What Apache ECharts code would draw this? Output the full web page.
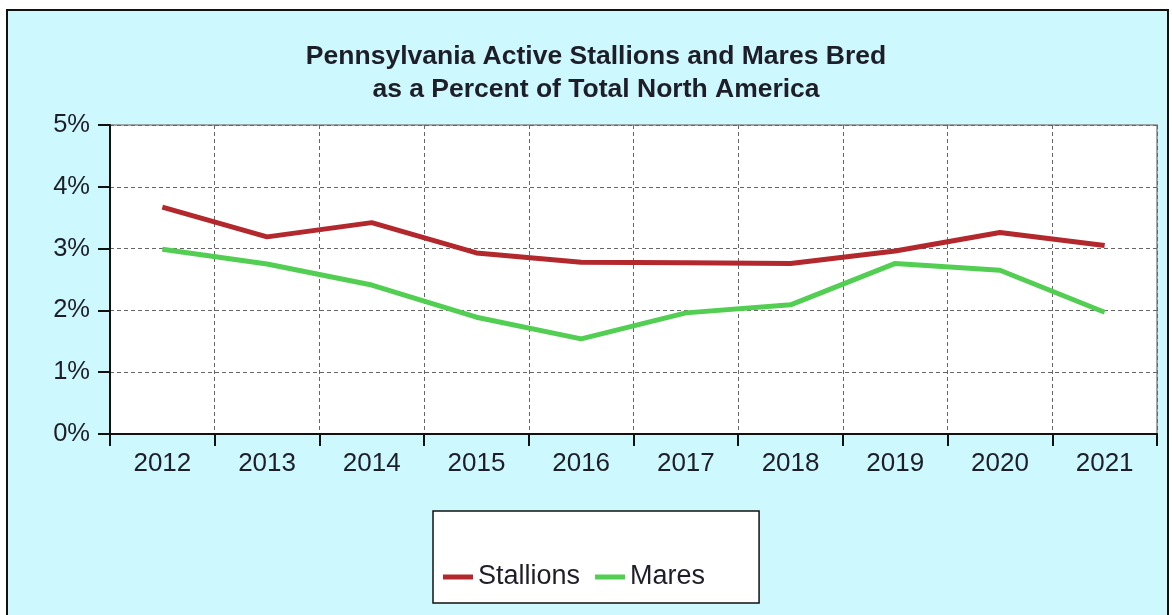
<!DOCTYPE html>
<html>
<head>
<meta charset="utf-8">
<script src="https://cdn.jsdelivr.net/npm/echarts@6/dist/echarts.min.js"></script>
<style>
  html, body { margin: 0; padding: 0; background: #fff; }
  #chart { width: 1172px; height: 615px; }
</style>
</head>
<body>
<div id="chart"></div>
<script>
const years = ["2012", "2013", "2014", "2015", "2016", "2017", "2018", "2019", "2020", "2021"]
const stallions = [3.67, 3.19, 3.42, 2.93, 2.78, 2.77, 2.76, 2.96, 3.26, 3.05]
const mares = [2.99, 2.75, 2.41, 1.89, 1.54, 1.96, 2.09, 2.76, 2.65, 1.97]

const font = "'Liberation Sans', Arial, sans-serif"
const textColor = "#1e1e28"

const chart = echarts.init(document.getElementById("chart"), null, { renderer: "canvas" })
chart.setOption({
    backgroundColor: "#fff",
    animation: false,
    graphic: [{
        type: "rect",
        z: -10,
        shape: { x: 7, y: 10, width: 1161, height: 620 },
        style: { fill: "#cdf8fe", stroke: "#111", lineWidth: 2 },
    }],
    title: {
        text: "Pennsylvania Active Stallions and Mares Bred\nas a Percent of Total North America",
        left: 596,
        top: 40,
        textAlign: "center",
        padding: 0,
        textStyle: {
            fontFamily: font,
            fontWeight: "bold",
            fontSize: 26.5,
            lineHeight: 33,
            color: textColor,
        },
    },
    grid: {
        show: true,
        left: 110,
        top: 125,
        right: 15,
        bottom: 181,
        containLabel: false,
        backgroundColor: "#fff",
        borderColor: "#8a8a8a",
        borderWidth: 1.5,
    },
    legend: {
        left: 433,
        top: 511,
        padding: [52, 54, 12, 10],
        backgroundColor: "#fff",
        borderColor: "#111",
        borderWidth: 1.5,
        icon: "rect",
        itemWidth: 30,
        itemHeight: 5,
        itemGap: 15,
        textStyle: { fontFamily: font, fontSize: 27, lineHeight: 28, color: textColor },
        data: ["Stallions", "Mares"],
    },
    xAxis: {
        type: "category",
        data: years,
        boundaryGap: true,
        axisLine: { lineStyle: { color: "#111", width: 2 } },
        axisTick: { show: true, length: 12, lineStyle: { color: "#111", width: 2 } },
        axisLabel: { margin: 17, fontFamily: font, fontSize: 26, color: textColor },
        splitLine: { show: true, lineStyle: { color: "#666", type: [4, 3], width: 1 } },
    },
    yAxis: {
        type: "value",
        min: 0,
        max: 5,
        interval: 1,
        axisLine: { show: true, lineStyle: { color: "#111", width: 2 } },
        axisTick: { show: true, length: 12, lineStyle: { color: "#111", width: 2 } },
        axisLabel: {
            margin: 20,
            fontFamily: font,
            fontSize: 25.5,
            color: textColor,
            formatter: "{value}%",
        },
        splitLine: { show: true, lineStyle: { color: "#666", type: [4, 3], width: 1 } },
    },
    series: [{
        name: "Stallions",
        type: "line",
        data: stallions,
        symbol: "none",
        itemStyle: { color: "#b3282d" },
        lineStyle: { color: "#b3282d", width: 5 },
    }, {
        name: "Mares",
        type: "line",
        data: mares,
        symbol: "none",
        itemStyle: { color: "#52cf52" },
        lineStyle: { color: "#52cf52", width: 5 },
    }],
})
</script>
</body>
</html>
